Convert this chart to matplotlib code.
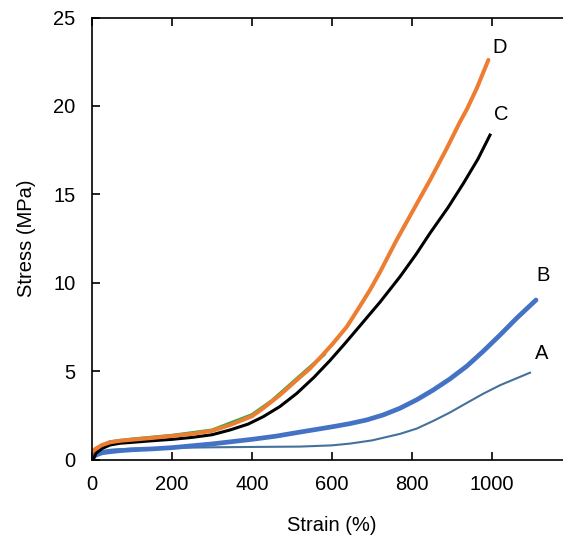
import matplotlib.pyplot as plt

plt.rcParams['font.family'] = ['Liberation Sans', 'DejaVu Sans']

# curve A (thin dark blue)
xa = [0, 10, 25, 50, 100, 150, 200, 300, 400, 520, 600, 645, 700, 770, 812, 853, 895, 937, 978,
      1020, 1060, 1095]
ya = [0.15, 0.35, 0.48, 0.56, 0.61, 0.64, 0.66, 0.69, 0.71, 0.73, 0.8, 0.9, 1.08, 1.45, 1.75, 2.18,
      2.66, 3.2, 3.72, 4.2, 4.58, 4.91]

# curve B (thick blue)
xb = [0, 10, 25, 45, 70, 100, 150, 200, 300, 400, 460, 520, 603, 645, 687, 728, 770, 812, 853,
      895, 937, 978, 1020, 1062, 1110]
yb = [0.1, 0.25, 0.38, 0.44, 0.5, 0.55, 0.6, 0.67, 0.88, 1.14, 1.32, 1.55, 1.86, 2.03, 2.24, 2.52,
      2.9, 3.38, 3.93, 4.56, 5.28, 6.12, 7.04, 8.0, 9.02]

# curve C (black)
xc = [3, 10, 25, 45, 70, 100, 150, 200, 250, 300, 345, 390, 428, 470, 512, 555, 595, 630, 662,
      690, 720, 770, 810, 845, 890, 928, 965, 995]
yc = [0.0, 0.35, 0.62, 0.82, 0.92, 0.97, 1.06, 1.14, 1.25, 1.4, 1.67, 2.0, 2.42, 3.0, 3.74, 4.65,
      5.6, 6.5, 7.35, 8.1, 8.9, 10.34, 11.6, 12.8, 14.25, 15.6, 17.0, 18.35]

# curve D (orange)
xd = [0, 10, 25, 45, 70, 100, 150, 200, 250, 300, 345, 400, 428, 470, 512, 545, 570, 600, 637,
      665, 695, 720, 760, 803, 845, 887, 920, 937, 962, 991]
yd = [0.45, 0.62, 0.82, 0.97, 1.06, 1.12, 1.22, 1.33, 1.45, 1.62, 1.95, 2.45, 2.9, 3.65, 4.5,
      5.15, 5.75, 6.5, 7.51, 8.5, 9.59, 10.6, 12.35, 14.1, 15.8, 17.6, 19.1, 19.8, 21.0, 22.6]

# green trace mostly hidden under D
xg = [0, 45, 100, 200, 300, 400, 450, 500, 545, 580]
yg = [0.5, 1.0, 1.15, 1.36, 1.66, 2.53, 3.33, 4.33, 5.23, 5.93]

labels = ['A', 'B', 'C', 'D']
label_x = [1125, 1128, 1022, 1020]
label_y = [5.97, 10.4, 19.5, 23.3]

fig = plt.figure(figsize=(5.63, 5.37), dpi=100)
ax = fig.add_axes([92 / 563, 77.5 / 537, 480 / 563, 442 / 537])

ax.plot([0, 4, 10], [0.3, 0.45, 0.55], color='#E03020', lw=2)
ax.plot(xg, yg, color='#2EAA4A', lw=2.4, solid_joinstyle='round')
ax.plot(xa, ya, color='#44719C', lw=1.5, solid_joinstyle='round')
ax.plot(xb, yb, color='#4472C4', lw=3.4, solid_capstyle='round', solid_joinstyle='round')
ax.plot(xc, yc, color='black', lw=2.2, solid_joinstyle='round')
ax.plot(xd, yd, color='#ED7D31', lw=2.9, solid_capstyle='round', solid_joinstyle='round')

for lab, lx, ly in zip(labels, label_x, label_y):
    ax.text(lx, ly, lab, fontsize=14.5, ha='center', va='center')

ax.set_xlim(0, 1200)
ax.set_ylim(0, 25)
ax.set_xticks([0, 200, 400, 600, 800, 1000])
ax.set_yticks([0, 5, 10, 15, 20, 25])
ax.tick_params(direction='in', length=6, width=1.2, labelsize=14.5, top=True)
ax.tick_params(axis='x', pad=11)
ax.tick_params(axis='y', pad=12)
ax.spines['right'].set_visible(False)
for s in ['left', 'bottom', 'top']:
    ax.spines[s].set_linewidth(1.2)

ax.set_xlabel('Strain (%)', fontsize=14.5, labelpad=16)
ax.set_ylabel('Stress (MPa)', fontsize=14.5, labelpad=12)

fig.savefig('out.png', dpi=100)
